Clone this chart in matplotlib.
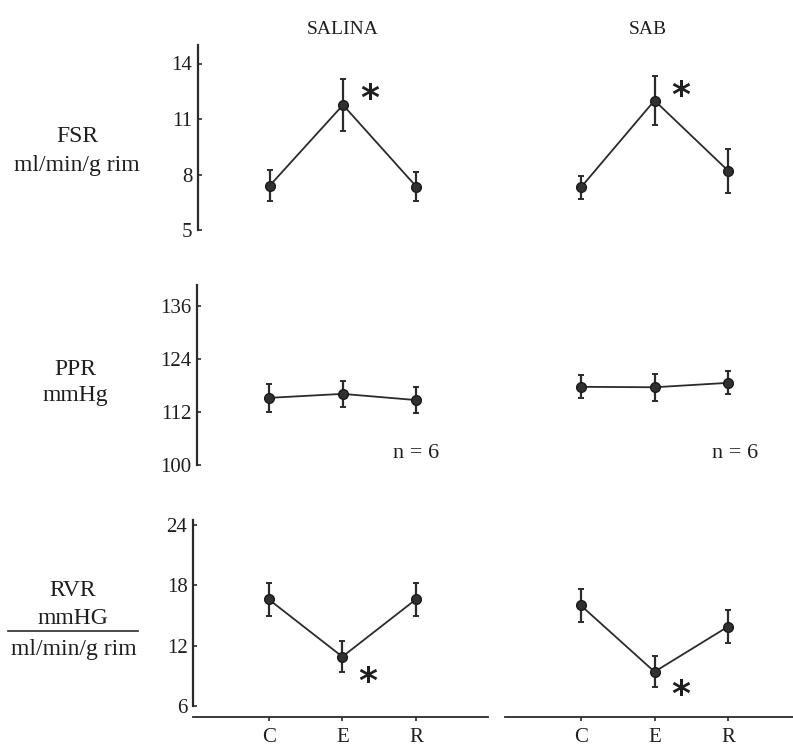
import matplotlib
matplotlib.use("Agg")
import matplotlib.pyplot as plt
from matplotlib.lines import Line2D

plt.rcParams['font.family'] = ['Liberation Serif', 'DejaVu Serif']

# Phases of the experiment
phases = ["C", "E", "R"]
groups = ["SALINA", "SAB"]

# FSR (ml/min/g rim): mean and standard error
fsr_salina = [7.4, 11.76, 7.35]
fsr_salina_err = [0.85, 1.4, 0.8]
fsr_sab = [7.3, 12.0, 8.2]
fsr_sab_err = [0.6, 1.35, 1.2]

# PPR (mmHg)
ppr_salina = [115.2, 116.1, 114.7]
ppr_salina_err = [3.2, 3.0, 3.0]
ppr_sab = [117.7, 117.6, 118.6]
ppr_sab_err = [2.6, 3.0, 2.6]

# RVR (mmHg / ml/min/g rim)
rvr_salina = [16.6, 10.9, 16.6]
rvr_salina_err = [1.65, 1.55, 1.65]
rvr_sab = [16.0, 9.4, 13.9]
rvr_sab_err = [1.65, 1.55, 1.6]

fsr_ticks = [5, 8, 11, 14]
ppr_ticks = [100, 112, 124, 136]
rvr_ticks = [6, 12, 18, 24]

W, H = 793, 751
fig = plt.figure(figsize=(W / 100, H / 100), dpi=100)

INK = "#2b2b2b"
TXT = "#1e1e1e"


def px_axes(x0, y_top, x1, y_bot):
    return fig.add_axes([x0 / W, 1 - y_bot / H, (x1 - x0) / W, (y_bot - y_top) / H])


def draw_series(ax, vals, errs):
    x = list(range(len(vals)))
    ax.errorbar(x, vals, yerr=errs, color=INK, lw=1.3, elinewidth=1.6,
                capsize=2, capthick=1.4, marker="o", ms=7,
                mfc="#303030", mec="#1a1a1a", zorder=3)


def style_left(ax, ylim, ticks, bottom=False, spine_bounds=None):
    ax.set_ylim(*ylim)
    ax.set_yticks(ticks)
    ax.set_yticklabels([str(t) for t in ticks], fontsize=15, color=TXT)
    for s in ["top", "right"]:
        ax.spines[s].set_visible(False)
    ax.spines["left"].set_linewidth(1.6)
    ax.spines["left"].set_color(INK)
    if spine_bounds is not None:
        ax.spines["left"].set_bounds(*spine_bounds)
    ax.tick_params(axis="y", direction="in", length=3, width=1.2,
                   color=INK, pad=4)
    if not bottom:
        ax.spines["bottom"].set_visible(False)
        ax.set_xticks([])


def style_right(ax, ylim, bottom=False):
    ax.set_ylim(*ylim)
    ax.set_yticks([])
    for s in ["top", "right", "left"]:
        ax.spines[s].set_visible(False)
    if not bottom:
        ax.spines["bottom"].set_visible(False)
        ax.set_xticks([])


def style_bottom(ax):
    ax.spines["bottom"].set_linewidth(1.3)
    ax.spines["bottom"].set_color(INK)
    ax.set_xticks(range(len(phases)))
    ax.set_xticklabels(phases, fontsize=15, color=TXT)
    ax.tick_params(axis="x", direction="out", length=3, width=1.2,
                   color=INK, pad=5)


def star(ax, x, y):
    ax.text(x, y, "*", fontsize=26, fontweight="bold", color=TXT,
            family="DejaVu Sans", ha="center", va="center")


# Row 1: FSR
ax1l = px_axes(198, 45, 488, 230)
ax1l.set_xlim(-0.98, 2.98)
draw_series(ax1l, fsr_salina, fsr_salina_err)
style_left(ax1l, (5, 15.0), fsr_ticks)
star(ax1l, 1.36, 12.1)

ax1r = px_axes(505, 45, 793, 230)
ax1r.set_xlim(-1.03, 2.88)
draw_series(ax1r, fsr_sab, fsr_sab_err)
style_right(ax1r, (5, 15.0))
star(ax1r, 1.35, 12.25)

# Row 2: PPR
ax2l = px_axes(197, 285, 488, 465)
ax2l.set_xlim(-0.98, 2.98)
draw_series(ax2l, ppr_salina, ppr_salina_err)
style_left(ax2l, (100, 140.75), ppr_ticks)
ax2l.text(2.0, 102.7, "n = 6", fontsize=16, color=TXT, ha="center", va="center")

ax2r = px_axes(505, 285, 793, 465)
ax2r.set_xlim(-1.03, 2.88)
draw_series(ax2r, ppr_sab, ppr_sab_err)
style_right(ax2r, (100, 140.75))
ax2r.text(2.1, 102.7, "n = 6", fontsize=16, color=TXT, ha="center", va="center")

# Row 3: RVR
ax3l = px_axes(193, 520, 488, 717)
ax3l.set_xlim(-1.03, 2.98)
draw_series(ax3l, rvr_salina, rvr_salina_err)
style_left(ax3l, (4.9, 24.5), rvr_ticks, bottom=True, spine_bounds=(6, 24.5))
style_bottom(ax3l)
star(ax3l, 1.35, 8.4)

ax3r = px_axes(505, 520, 793, 717)
ax3r.set_xlim(-1.03, 2.88)
draw_series(ax3r, rvr_sab, rvr_sab_err)
style_right(ax3r, (4.9, 24.5), bottom=True)
style_bottom(ax3r)
star(ax3r, 1.35, 7.1)

# Column headers
fig.text(343 / W, 1 - 30 / H, groups[0], fontsize=14, color=TXT, ha="center", va="center")
fig.text(648 / W, 1 - 30 / H, groups[1], fontsize=14, color=TXT, ha="center", va="center")

# Row labels
def flabel(x, y, s, size=17):
    fig.text(x / W, 1 - y / H, s, fontsize=size, color=TXT, ha="center", va="center")

flabel(77, 137, "FSR")
flabel(77, 165, "ml/min/g rim")
flabel(75, 370, "PPR")
flabel(75, 396, "mmHg")
flabel(73, 591, "RVR")
flabel(73, 618, "mmHG")
flabel(74, 650, "ml/min/g rim")
fig.add_artist(Line2D([8 / W, 138 / W], [1 - 631 / H, 1 - 631 / H],
                      color=INK, lw=1.2))

fig.savefig("out.png", dpi=100, facecolor="white")
